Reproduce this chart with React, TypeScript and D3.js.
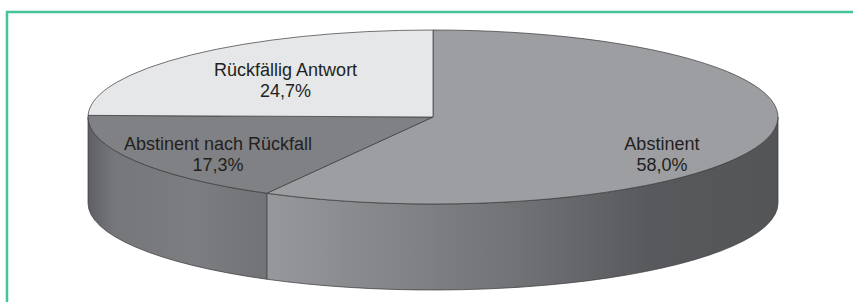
import { useEffect, useRef } from "react"
import * as d3 from "d3"

// slices in clockwise order starting at 12 o'clock
const labels = ["Abstinent", "Abstinent nach Rückfall", "Rückfällig Antwort"]
const values = [58.0, 17.3, 24.7]
const valueLabels = ["58,0%", "17,3%", "24,7%"]

const topColors = ["#9d9ea1", "#808184", "#e6e7e8"]
// label anchor as fraction of radius along x / y of the slice mid-angle
const labelFx = [0.685, 0.72, 0.61]
const labelFy = [1.73, 0.84, 0.6]

export default function App() {
  const svgRef = useRef<SVGSVGElement>(null)

  useEffect(() => {
    if (!svgRef.current) return
    const svg = d3.select(svgRef.current)
    svg.selectAll("*").remove()

    const width = 853
    const height = 302
    const cx = 433
    const cy = 117
    const rx = 345
    const ry = 87
    const depth = 86

    const px = (a: number) => cx + rx * Math.sin(a)
    const py = (a: number) => cy - ry * Math.cos(a)

    const pie = d3
      .pie<number>()
      .sort(null)
      .value((d) => d)
    const arcs = pie(values)

    // frame
    svg
      .append("path")
      .attr("d", `M7,${height} L7,12 L${width},12`)
      .attr("fill", "none")
      .attr("stroke", "#45c39b")
      .attr("stroke-width", 2.5)

    const defs = svg.append("defs")
    const grads = [
      {
        id: "side0",
        x1: cx + rx * Math.sin(arcs[0].endAngle),
        x2: cx + rx,
        stops: [
          [0, "#97989b"],
          [0.5, "#707174"],
          [0.75, "#58595c"],
          [1, "#545557"],
        ],
      },
      {
        id: "side1",
        x1: cx - rx,
        x2: cx + rx * Math.sin(arcs[1].startAngle),
        stops: [
          [0, "#5f6063"],
          [0.15, "#76777a"],
          [0.6, "#7c7d80"],
          [1, "#727376"],
        ],
      },
    ]
    grads.forEach((g) => {
      const lg = defs
        .append("linearGradient")
        .attr("id", g.id)
        .attr("gradientUnits", "userSpaceOnUse")
        .attr("x1", g.x1)
        .attr("x2", g.x2)
        .attr("y1", 0)
        .attr("y2", 0)
      g.stops.forEach(([o, c]) => lg.append("stop").attr("offset", o).attr("stop-color", c as string))
    })

    const stroke = "#3a3a3c"

    // side walls (front half only)
    arcs.forEach((a, i) => {
      const a0 = Math.max(a.startAngle, Math.PI / 2)
      const a1 = Math.min(a.endAngle, (3 * Math.PI) / 2)
      if (a1 <= a0) return
      const d =
        `M${px(a0)},${py(a0)} A${rx},${ry} 0 0 1 ${px(a1)},${py(a1)}` +
        ` L${px(a1)},${py(a1) + depth} A${rx},${ry} 0 0 0 ${px(a0)},${py(a0) + depth} Z`
      svg
        .append("path")
        .attr("d", d)
        .attr("fill", `url(#side${i})`)
        .attr("stroke", stroke)
        .attr("stroke-width", 0.7)
        .attr("stroke-linejoin", "round")
    })

    // top faces
    arcs.forEach((a, i) => {
      const large = a.endAngle - a.startAngle > Math.PI ? 1 : 0
      const d =
        `M${cx},${cy} L${px(a.startAngle)},${py(a.startAngle)}` +
        ` A${rx},${ry} 0 ${large} 1 ${px(a.endAngle)},${py(a.endAngle)} Z`
      svg
        .append("path")
        .attr("d", d)
        .attr("fill", topColors[i])
        .attr("stroke", stroke)
        .attr("stroke-width", 0.7)
        .attr("stroke-linejoin", "round")
    })

    // labels
    arcs.forEach((a, i) => {
      const mid = (a.startAngle + a.endAngle) / 2
      const x = cx + rx * labelFx[i] * Math.sin(mid)
      const y = cy - ry * labelFy[i] * Math.cos(mid)
      const t = svg
        .append("text")
        .attr("text-anchor", "middle")
        .attr("fill", "#231f20")
        .style("font-family", "'Liberation Sans', Arial, sans-serif")
        .style("font-size", "18px")
      t.append("tspan").attr("x", x).attr("y", y - 4).text(labels[i])
      t.append("tspan").attr("x", x).attr("y", y + 17).text(valueLabels[i])
    })
  }, [])

  return (
    <svg
      ref={svgRef}
      width={853}
      height={302}
      style={{ position: "absolute", left: 0, top: 0, background: "#ffffff" }}
    />
  )
}
